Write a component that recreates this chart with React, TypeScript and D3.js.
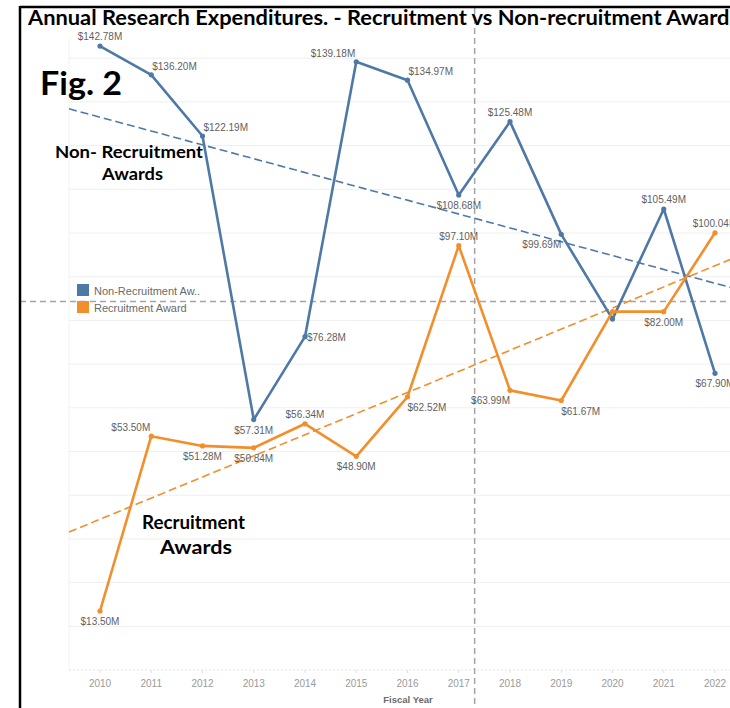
import * as d3 from "d3";

const years: number[] = [2010, 2011, 2012, 2013, 2014, 2015, 2016, 2017, 2018, 2019, 2020, 2021, 2022];
const nonRecruitment: number[] = [142.78, 136.2, 122.19, 57.31, 76.28, 139.18, 134.97, 108.68, 125.48, 99.69, 80.3, 105.49, 67.9];
const recruitment: number[] = [13.5, 53.5, 51.28, 50.84, 56.34, 48.9, 62.52, 97.1, 63.99, 61.67, 82.0, 82.0, 100.04];

// trend line values at 2010 and 2022
const trendYears: number[] = [2010, 2022];
const nonRecruitmentTrend: number[] = [126.5, 88.5];
const recruitmentTrend: number[] = [34.5, 92.5];

// reference lines
const avgValue = 84.3;
const refYear = 2017.31;

const seriesNames: string[] = ["Non-Recruitment Aw..", "Recruitment Award"];
const yTicks: number[] = [0, 10, 20, 30, 40, 50, 60, 70, 80, 90, 100, 110, 120, 130, 140];

// label placement per point (null = hidden by tableau)
const blueLabelPos = ["a", "ar", "ar", "b", "r", "al", "ar", "b", "a", "bl", null, "a", "b"];
const orangeLabelPos = ["b", "al", "b", "b", "a", "b", "br", "a", "bl", "br", null, "b", "a"];

const W = 730;
const H = 708;
const blue = "#4e79a7";
const orange = "#f28e2b";

const x = d3.scaleLinear().domain([2010, 2022]).range([100, 715]);
const y = d3.scaleLinear().domain([0, 140]).range([670, 58.2]);
const plotLeft = 69;
const plotRight = W;

function fmt(v: number) {
  return `$${v.toFixed(2)}M`;
}

function labelAttrs(pos: string, px: number, py: number) {
  switch (pos) {
    case "a": return { x: px, y: py - 6, anchor: "middle" };
    case "b": return { x: px, y: py + 14, anchor: "middle" };
    case "ar": return { x: px + 1, y: py - 5, anchor: "start" };
    case "al": return { x: px - 1, y: py - 5, anchor: "end" };
    case "br": return { x: px, y: py + 14, anchor: "start" };
    case "bl": return { x: px, y: py + 14, anchor: "end" };
    case "r": return { x: px + 2, y: py + 4, anchor: "start" };
    default: return { x: px, y: py, anchor: "middle" };
  }
}

function Series({ values, color, labels }: { values: number[]; color: string; labels: (string | null)[] }) {
  const line = d3.line<number>().x((_, i) => x(years[i])).y((d) => y(d));
  return (
    <g>
      <path d={line(values) || ""} fill="none" stroke={color} strokeWidth={2.6} strokeLinejoin="round" />
      {values.map((v, i) => (
        <circle key={i} cx={x(years[i])} cy={y(v)} r={2.6} fill={color} />
      ))}
      {values.map((v, i) => {
        const pos = labels[i];
        if (!pos) return null;
        const a = labelAttrs(pos, x(years[i]), y(v));
        return (
          <text key={"l" + i} x={a.x} y={a.y} textAnchor={a.anchor as any} fontSize={10}
            fontFamily="'Liberation Sans', Arial, sans-serif" fill="#5f5f5f">
            {fmt(v)}
          </text>
        );
      })}
    </g>
  );
}

function Trend({ values, color }: { values: number[]; color: string }) {
  const tScale = d3.scaleLinear().domain(trendYears).range(values);
  const x0 = x.invert(plotLeft);
  const x1 = x.invert(plotRight);
  return (
    <line x1={x(x0)} y1={y(tScale(x0))} x2={x(x1)} y2={y(tScale(x1))}
      stroke={color} strokeWidth={1.6} strokeDasharray="8,4" />
  );
}

export default function App() {
  const bold = "Lato, 'Open Sans', sans-serif";
  return (
    <svg width={W} height={H} style={{ position: "absolute", left: 0, top: 0, background: "#fff" }}
      fontFamily="'Liberation Sans', Arial, sans-serif">
      <rect width={W} height={H} fill="#fff" />
      {/* gridlines */}
      {yTicks.slice(1).map((t) => (
        <line key={t} x1={plotLeft} x2={plotRight} y1={y(t)} y2={y(t)} stroke="#efefef" strokeWidth={1} />
      ))}
      <line x1={plotLeft} x2={plotLeft} y1={y(140) - 20} y2={y(0)} stroke="#f2f2f2" strokeWidth={1} />
      {/* x axis */}
      <line x1={plotLeft} x2={plotRight} y1={y(0)} y2={y(0)} stroke="#e2e2e2" strokeWidth={1} strokeDasharray="2,2" />
      {years.map((yr) => (
        <g key={yr}>
          <line x1={x(yr)} x2={x(yr)} y1={y(0)} y2={y(0) + 3} stroke="#e0e0e0" />
          <text x={x(yr)} y={y(0) + 17} textAnchor="middle" fontSize={10} fill="#9a9a9a">{yr}</text>
        </g>
      ))}
      <text x={408} y={703} textAnchor="middle" fontSize={9.5} fontWeight="bold" fill="#6a6a6a">Fiscal Year</text>

      {/* reference lines */}
      <line x1={20} x2={W} y1={y(avgValue)} y2={y(avgValue)} stroke="#a5a5a5" strokeWidth={1.5} strokeDasharray="6,4" />
      <line x1={x(refYear)} x2={x(refYear)} y1={8} y2={H} stroke="#a5a5a5" strokeWidth={1.5} strokeDasharray="6,4" />

      {/* trend lines */}
      <Trend values={nonRecruitmentTrend} color={blue} />
      <Trend values={recruitmentTrend} color={orange} />

      <Series values={nonRecruitment} color={blue} labels={blueLabelPos} />
      <Series values={recruitment} color={orange} labels={orangeLabelPos} />

      {/* legend */}
      <rect x={77} y={284} width={12} height={12} fill={blue} />
      <rect x={77} y={301} width={12} height={12} fill={orange} />
      <text x={94} y={295} fontSize={11} fill="#6a6a6a">{seriesNames[0]}</text>
      <text x={94} y={312} fontSize={11} fill="#6a6a6a">{seriesNames[1]}</text>

      {/* annotations */}
      <text x={40} y={95} fontSize={33} fontWeight="bold" fontFamily={bold} fill="#000" textLength={82} lengthAdjust="spacingAndGlyphs">Fig. 2</text>
      <text x={55} y={158} fontSize={17} fontWeight="bold" fontFamily={bold} fill="#000" textLength={148} lengthAdjust="spacingAndGlyphs">Non- Recruitment</text>
      <text x={102} y={180} fontSize={17} fontWeight="bold" fontFamily={bold} fill="#000" textLength={61} lengthAdjust="spacingAndGlyphs">Awards</text>
      <text x={142} y={529} fontSize={18} fontWeight="bold" fontFamily={bold} fill="#000" textLength={103} lengthAdjust="spacingAndGlyphs">Recruitment</text>
      <text x={160} y={554} fontSize={18} fontWeight="bold" fontFamily={bold} fill="#000" textLength={72} lengthAdjust="spacingAndGlyphs">Awards</text>

      {/* frame + title */}
      <line x1={20} x2={W} y1={7} y2={7} stroke="#000" strokeWidth={2.5} />
      <line x1={20} x2={20} y1={6} y2={H} stroke="#000" strokeWidth={2.5} />
      <text x={28} y={25} fontSize={20} fontWeight="bold" fontFamily={bold} fill="#000" textLength={711} lengthAdjust="spacingAndGlyphs">
        Annual Research Expenditures. - Recruitment vs Non-recruitment Awards
      </text>
    </svg>
  );
}
